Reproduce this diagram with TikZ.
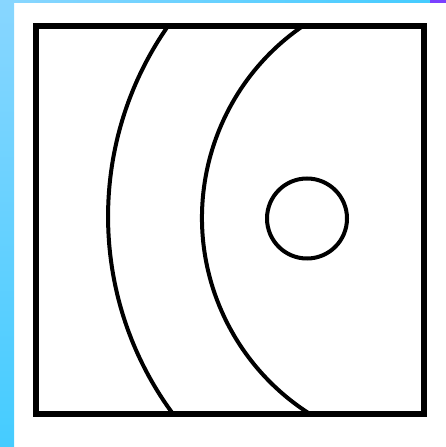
\documentclass[tikz,border=0pt]{standalone}
\usepackage{tikz}
\definecolor{stripLight}{HTML}{88D6FF}
\definecolor{stripDeep}{HTML}{45CCFF}
\definecolor{cornerViolet}{HTML}{7A40FF}
\tikzset{
  framebox/.style={
    draw=black,
    line width=5.5pt
  },
  bendline/.style={
    draw=black,
    line width=4pt
  },
  holeline/.style={
    draw=black,
    line width=4pt
  }
}

\begin{document}
\begin{tikzpicture}[x=1pt,y=1pt]
  \useasboundingbox (0,0) rectangle (446,447);
  % edge strips
  \shade[top color=stripLight, bottom color=stripDeep] (0,0) rectangle (14,447);
  \shade[left color=stripLight, right color=stripDeep] (14,444) rectangle (430,447);
  \fill[cornerViolet] (430,444.3) rectangle (446,447);
  % arcs, kept inside the frame
  \begin{scope}
    \clip (36,33) rectangle (424,421);
    \draw[bendline] (440.55,230.48) ++(140:332.5) arc[start angle=140, end angle=221, radius=332.5];
    \draw[bendline] (434.5,229.31) ++(118:232.5) arc[start angle=118, end angle=244, radius=232.5];
  \end{scope}
  \draw[framebox] (36,33) rectangle (424,421);
  \draw[holeline] (307,228.5) circle[radius=40];
\end{tikzpicture}
\end{document}
